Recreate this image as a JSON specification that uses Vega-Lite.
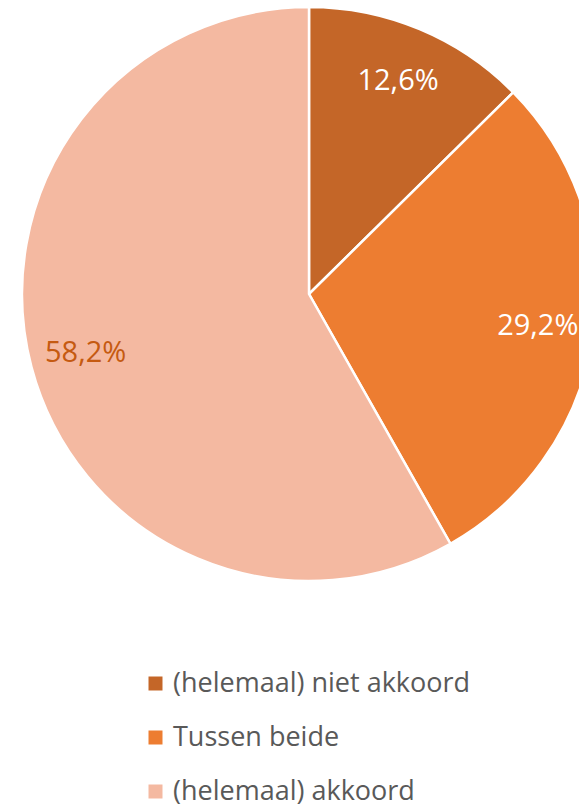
{
  "$schema": "https://vega.github.io/schema/vega-lite/v6.json",
  "width": 618,
  "height": 588,
  "padding": 0,
  "autosize": "pad",
  "background": "white",
  "view": {"stroke": null},
  "data": {"values": [
    {"cat": "(helemaal) niet akkoord", "pct": 12.6, "label": "12,6%", "ord": 1},
    {"cat": "Tussen beide", "pct": 29.2, "label": "29,2%", "ord": 2},
    {"cat": "(helemaal) akkoord", "pct": 58.2, "label": "58,2%", "ord": 3}
  ]},
  "encoding": {
    "theta": {"field": "pct", "type": "quantitative", "stack": true},
    "order": {"field": "ord", "type": "quantitative"}
  },
  "layer": [
    {
      "mark": {"type": "arc", "outerRadius": 287, "stroke": "white", "strokeWidth": 2.5},
      "encoding": {
        "color": {
          "field": "cat", "type": "nominal",
          "scale": {"domain": ["(helemaal) niet akkoord", "Tussen beide", "(helemaal) akkoord"], "range": ["#C46628", "#ED7D31", "#F4B9A1"]},
          "legend": {
            "title": null, "orient": "none", "legendX": 142, "legendY": 670,
            "symbolType": "square", "symbolSize": 196, "symbolStrokeWidth": 0,
            "labelFont": "Open Sans", "labelFontSize": 27, "labelColor": "#595959",
            "rowPadding": 26, "labelOffset": 4, "labelLimit": 500
          }
        }
      }
    },
    {
      "mark": {"type": "text", "radius": 231, "font": "Open Sans", "fontSize": 29},
      "encoding": {
        "text": {"field": "label", "type": "nominal"},
        "color": {
          "field": "cat", "type": "nominal",
          "scale": {"domain": ["(helemaal) niet akkoord", "Tussen beide", "(helemaal) akkoord"], "range": ["#FFFFFF", "#FFFFFF", "#C55A11"]},
          "legend": null
        }
      }
    }
  ],
  "resolve": {"scale": {"color": "independent"}}
}
